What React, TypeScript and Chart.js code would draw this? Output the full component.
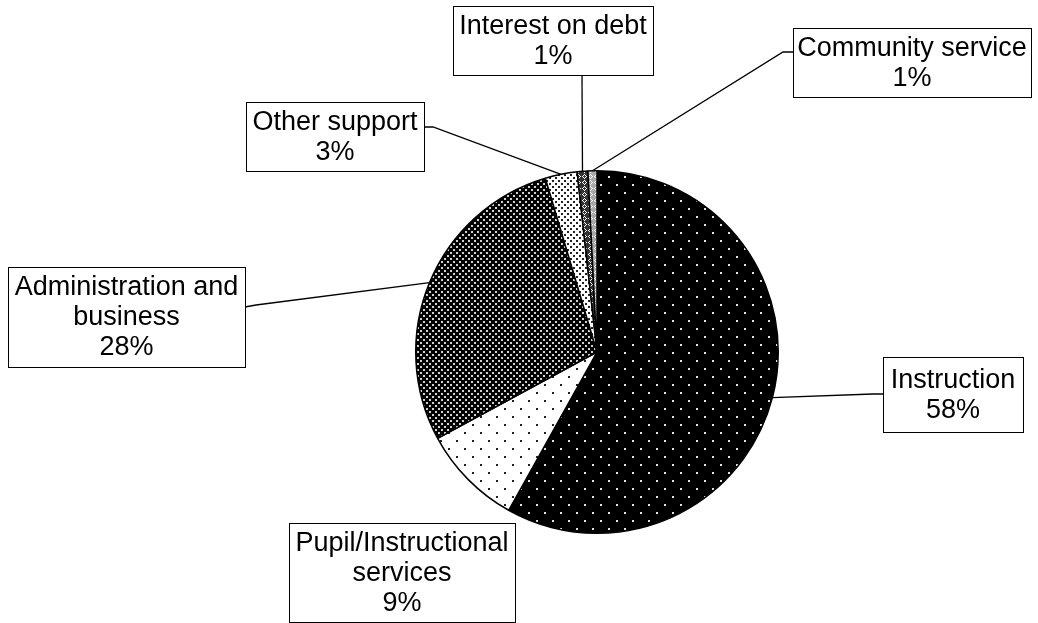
import React, { useEffect, useRef } from "react";
import { Chart, registerables } from "chart.js";

Chart.register(...registerables);

// ---- data ----
const categories = [
  "Instruction",
  "Pupil/Instructional services",
  "Administration and business",
  "Other support",
  "Interest on debt",
  "Community service",
];
const shares = [58.1, 9.0, 28.3, 2.85, 0.95, 0.8];
const labelLines = [
  ["Instruction"],
  ["Pupil/Instructional", "services"],
  ["Administration and", "business"],
  ["Other support"],
  ["Interest on debt"],
  ["Community service"],
];

// ---- label layout (box rect, attach point, stub point, leader shown) ----
const labelLayout = [
  { box: [883, 357, 140, 75], attach: [883, 394], stub: [873, 394], leader: true },
  { box: [289, 523, 226, 99], attach: [470, 523], stub: [470, 523], leader: false },
  { box: [8, 267, 237, 100], attach: [245, 307], stub: [256, 305], leader: true },
  { box: [246, 102, 178, 69], attach: [424, 127], stub: [433, 127], leader: true },
  { box: [453, 6, 200, 69], attach: [582, 75], stub: [582, 75], leader: true },
  { box: [793, 28, 238, 69], attach: [793, 52], stub: [783, 52], leader: true },
];

function dotPattern(bg: string, fg: string, size: number, dots: number[][], d: number) {
  const c = document.createElement("canvas");
  c.width = size;
  c.height = size;
  const g = c.getContext("2d")!;
  g.fillStyle = bg;
  g.fillRect(0, 0, size, size);
  g.fillStyle = fg;
  for (const [x, y] of dots) g.fillRect(x, y, d, d);
  return g.createPattern(c, "repeat")!;
}

function diamondPattern(bg: string, fg: string) {
  const c = document.createElement("canvas");
  c.width = 6;
  c.height = 6;
  const g = c.getContext("2d")!;
  g.fillStyle = bg;
  g.fillRect(0, 0, 6, 6);
  g.fillStyle = fg;
  const pts = [[2, 0], [1, 1], [3, 1], [0, 2], [4, 2], [1, 3], [3, 3], [2, 4]];
  for (const [x, y] of pts) g.fillRect(x, y, 1, 1);
  return g.createPattern(c, "repeat")!;
}

const labelPlugin = {
  id: "boxLabels",
  afterDraw(chart: any) {
    const ctx = chart.ctx as CanvasRenderingContext2D;
    const meta = chart.getDatasetMeta(0);
    ctx.save();
    meta.data.forEach((arc: any, i: number) => {
      const p = arc.getProps(["x", "y", "startAngle", "endAngle", "outerRadius"], true);
      const mid = (p.startAngle + p.endAngle) / 2;
      const px = p.x + Math.cos(mid) * p.outerRadius;
      const py = p.y + Math.sin(mid) * p.outerRadius;
      const L = labelLayout[i];
      ctx.strokeStyle = "#000";
      if (L.leader) {
        ctx.lineWidth = 1.3;
        ctx.beginPath();
        ctx.moveTo(L.attach[0], L.attach[1]);
        ctx.lineTo(L.stub[0], L.stub[1]);
        ctx.lineTo(px, py);
        ctx.stroke();
      }

      const [bx, by, bw, bh] = L.box;
      ctx.fillStyle = "#fff";
      ctx.fillRect(bx, by, bw, bh);
      ctx.lineWidth = 1;
      ctx.strokeRect(bx + 0.5, by + 0.5, bw, bh);

      const lines = [...labelLines[i], `${Math.round(shares[i])}%`];
      const lh = 30;
      ctx.fillStyle = "#000";
      ctx.font = '27px "Liberation Sans", Arial, sans-serif';
      ctx.textAlign = "center";
      ctx.textBaseline = "middle";
      const cy = by + bh / 2;
      lines.forEach((t, k) => {
        ctx.fillText(t, bx + bw / 2, cy + (k - (lines.length - 1) / 2) * lh + 1);
      });
    });
    ctx.restore();
  },
};

export default function App() {
  const ref = useRef<HTMLCanvasElement>(null);
  useEffect(() => {
    const fills = [
      dotPattern("#000", "#e0e0e0", 16, [[0, 0], [8, 8]], 2),
      dotPattern("#fff", "#222", 16, [[0, 0], [8, 8]], 2),
      dotPattern("#000", "#d0d0d0", 6, [[0, 0], [3, 3]], 2),
      dotPattern("#fff", "#222", 6, [[0, 0], [3, 3]], 2),
      diamondPattern("#333", "#fff"),
      diamondPattern("#aaa", "#fff"),
    ];
    const chart = new Chart(ref.current!, {
      type: "pie",
      data: {
        labels: categories,
        datasets: [
          {
            data: shares,
            backgroundColor: fills as any,
            borderColor: "#000",
            borderWidth: 1.5,
          },
        ],
      },
      options: {
        responsive: false,
        animation: false,
        layout: { padding: { left: 415, right: 259, top: 170, bottom: 89 } },
        plugins: { legend: { display: false }, tooltip: { enabled: false } },
      },
      plugins: [labelPlugin],
    });
    return () => chart.destroy();
  }, []);
  return (
    <div style={{ position: "fixed", left: 0, top: 0, width: 1038, height: 623, background: "#fff" }}>
      <canvas ref={ref} width={1038} height={623} />
    </div>
  );
}
